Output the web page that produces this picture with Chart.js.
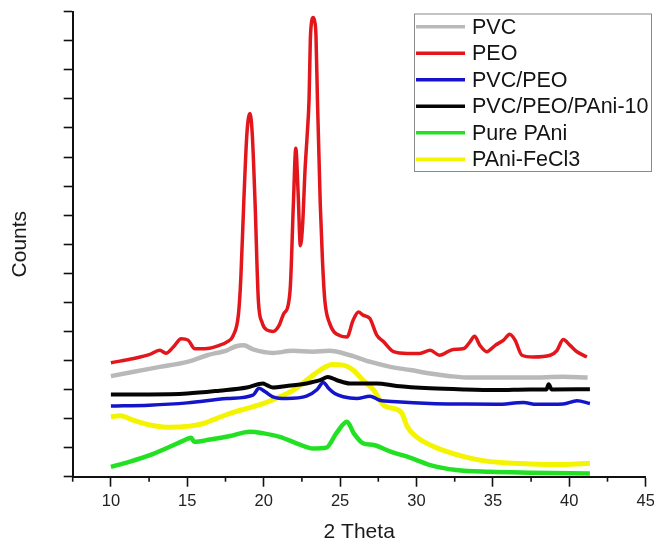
<!DOCTYPE html>
<html>
<head>
<meta charset="utf-8">
<script src="https://cdn.jsdelivr.net/npm/chart.js@4/dist/chart.umd.min.js"></script>
<style>
  html, body { margin: 0; padding: 0; background: #ffffff; }
  #c { display: block; }
</style>
</head>
<body>
<canvas id="c" width="654" height="541"></canvas>
<script>
// ---- Data ----
const seriesNames = ["PVC", "PEO", "PVC/PEO", "PVC/PEO/PAni-10", "Pure PAni", "PAni-FeCl3"];

const pvcTheta  = [10, 11.5, 13.2, 15, 16.3, 17.6, 18.2, 18.7, 19.3, 20.6, 21.9, 23.2, 24.3, 25.65, 27, 28.3, 29.6, 30.9, 32.2, 33.5, 35.2, 37.4, 39.6, 41.2];
const pvcCounts = [3.46, 3.61, 3.78, 3.95, 4.18, 4.35, 4.49, 4.52, 4.38, 4.26, 4.33, 4.3, 4.33, 4.18, 3.95, 3.78, 3.67, 3.55, 3.46, 3.41, 3.41, 3.41, 3.44, 3.41];

const peoTheta  = [10, 11.5, 12.5, 13.2, 13.6, 14.1, 14.6, 15.05, 15.5, 16.3, 17.1, 17.6, 18.0, 18.35, 18.5, 18.7, 18.9, 19.1, 19.25, 19.43, 19.65, 19.9, 20.2, 20.6, 21.0, 21.3, 21.6, 21.75, 21.95, 22.1, 22.25, 22.4, 22.55, 22.7, 22.85, 22.97, 23.05, 23.12, 23.22, 23.32, 23.42, 23.52, 23.7, 23.85, 24.0, 24.3, 25.0, 25.45, 25.85, 26.2, 26.5, 26.95, 27.4, 27.85, 28.5, 29.4, 30.2, 30.9, 31.5, 32.4, 33.1, 33.5, 33.8, 34.15, 34.6, 35.15, 35.7, 36.1, 36.45, 36.9, 37.65, 38.75, 39.2, 39.6, 40.05, 40.5, 41.15];
const peoCounts = [3.92, 4.07, 4.2, 4.35, 4.25, 4.47, 4.75, 4.7, 4.4, 4.41, 4.52, 4.64, 4.85, 5.6, 6.8, 9.5, 11.8, 12.5, 11.8, 9.5, 6.07, 5.3, 5.05, 5.0, 5.2, 5.6, 5.9, 6.6, 9.5, 11.3, 9.8, 7.95, 8.7, 10.5, 11.8, 13.0, 15.0, 15.6, 15.8, 15.7, 15.2, 12.9, 9.4, 7.4, 6.07, 5.3, 4.85, 4.81, 5.38, 5.67, 5.56, 5.44, 4.87, 4.64, 4.3, 4.24, 4.24, 4.35, 4.18, 4.38, 4.41, 4.64, 4.83, 4.52, 4.3, 4.52, 4.7, 4.9, 4.7, 4.18, 4.12, 4.18, 4.35, 4.72, 4.52, 4.3, 4.12];

const blendTheta  = [10, 12.5, 15, 17.6, 19.3, 19.7, 20.1, 20.6, 21.5, 22.8, 23.5, 23.9, 24.25, 24.65, 25.2, 26.1, 26.95, 27.6, 28.7, 30.9, 33.1, 35.25, 37.0, 37.85, 39.6, 40.5, 41.35];
const blendCounts = [2.43, 2.46, 2.54, 2.69, 2.81, 3.04, 2.92, 2.75, 2.69, 2.77, 3.0, 3.24, 3.04, 2.86, 2.75, 2.69, 2.77, 2.63, 2.58, 2.52, 2.5, 2.49, 2.55, 2.49, 2.5, 2.61, 2.52];

const compTheta  = [10, 12.5, 15, 17.1, 18.9, 19.95, 20.2, 20.6, 21.5, 22.8, 23.7, 24.2, 24.8, 25.65, 27.4, 28.7, 30.9, 33.1, 35.25, 37.4, 38.5, 38.65, 38.85, 41.35];
const compCounts = [2.83, 2.83, 2.86, 2.96, 3.07, 3.21, 3.15, 3.07, 3.12, 3.21, 3.32, 3.43, 3.32, 3.21, 3.21, 3.12, 3.04, 3.0, 2.98, 3.0, 3.0, 3.18, 3.0, 3.01];

const paniTheta  = [10, 11.25, 12.55, 13.85, 14.75, 15.25, 15.45, 16.5, 17.8, 19.1, 20.0, 21.05, 22.15, 23.25, 24.1, 24.75, 25.45, 25.9, 26.5, 27.2, 28.3, 29.4, 30.9, 32.6, 34.8, 37.4, 41.35];
const paniCounts = [0.34, 0.52, 0.74, 1.03, 1.24, 1.34, 1.2, 1.28, 1.4, 1.55, 1.49, 1.37, 1.15, 0.97, 1.0, 1.49, 1.89, 1.49, 1.15, 1.09, 0.86, 0.69, 0.4, 0.23, 0.17, 0.14, 0.11];

const fecl3Theta  = [10, 10.6, 11.45, 12.55, 13.85, 15.15, 16.05, 16.9, 17.8, 18.9, 20.0, 21.05, 21.95, 22.8, 23.7, 24.5, 25.2, 25.85, 26.5, 27.2, 27.85, 28.7, 29.05, 29.4, 30.0, 30.9, 32.0, 33.1, 34.15, 35.7, 37.4, 39.6, 41.35];
const fecl3Counts = [2.06, 2.1, 1.95, 1.78, 1.7, 1.74, 1.83, 2.0, 2.18, 2.35, 2.52, 2.75, 2.98, 3.32, 3.67, 3.86, 3.84, 3.67, 3.32, 2.98, 2.46, 2.32, 2.18, 1.72, 1.37, 1.09, 0.86, 0.69, 0.57, 0.48, 0.44, 0.42, 0.46];

const xTickValues = [10, 15, 20, 25, 30, 35, 40, 45];
const xMinorTickValues = [7.5, 12.5, 17.5, 22.5, 27.5, 32.5, 37.5, 42.5];

// ---- helpers ----
function pts(xs, ys) { return xs.map((x, i) => ({ x: x, y: ys[i] })); }

const FONT = '"Liberation Sans", Arial, Helvetica, sans-serif';

const seriesData = [
  pts(pvcTheta, pvcCounts),
  pts(peoTheta, peoCounts),
  pts(blendTheta, blendCounts),
  pts(compTheta, compCounts),
  pts(paniTheta, paniCounts),
  pts(fecl3Theta, fecl3Counts)
];
const seriesColors = ["#b9b9b9", "#e3161c", "#1414c8", "#050505", "#22e022", "#f4f400"];
const seriesWidths = [4.5, 3.5, 3.5, 4, 4.5, 5];
const seriesOrder = [4, 3, 2, 1, 5, 6]; // lower order drawn on top

const minorTicksPlugin = {
  id: 'minorTicks',
  afterDraw(chart) {
    const xs = chart.scales.x;
    const ctx = chart.ctx;
    ctx.save();
    ctx.strokeStyle = '#111';
    ctx.lineWidth = 1.6;
    xMinorTickValues.forEach(v => {
      const px = xs.getPixelForValue(v);
      ctx.beginPath();
      ctx.moveTo(px, xs.top);
      ctx.lineTo(px, xs.top + 5);
      ctx.stroke();
    });
    ctx.restore();
  }
};

const boxLegendPlugin = {
  id: 'boxLegend',
  afterDraw(chart) {
    const ctx = chart.ctx;
    const left = 414.5, top = 14, w = 237, h = 157.5;
    ctx.save();
    ctx.fillStyle = '#ffffff';
    ctx.fillRect(left, top, w, h);
    ctx.strokeStyle = '#8a8a8a';
    ctx.lineWidth = 1;
    ctx.strokeRect(left, top, w, h);
    ctx.font = '21.5px ' + FONT;
    ctx.textBaseline = 'middle';
    ctx.textAlign = 'left';
    chart.data.datasets.forEach((ds, i) => {
      const y = 26.7 + i * 26.5;
      ctx.strokeStyle = ds.borderColor;
      ctx.lineWidth = 3.5;
      ctx.beginPath();
      ctx.moveTo(416, y);
      ctx.lineTo(465, y);
      ctx.stroke();
      ctx.fillStyle = '#141414';
      ctx.fillText(ds.label, 472, y + 1);
    });
    ctx.restore();
  }
};

new Chart(document.getElementById('c'), {
  type: 'line',
  data: {
    datasets: seriesNames.map((name, i) => ({
      label: name,
      data: seriesData[i],
      borderColor: seriesColors[i],
      backgroundColor: seriesColors[i],
      borderWidth: seriesWidths[i],
      pointRadius: 0,
      cubicInterpolationMode: 'monotone',
      fill: false,
      order: seriesOrder[i]
    }))
  },
  options: {
    responsive: false,
    animation: false,
    devicePixelRatio: 1,
    layout: { padding: { top: 11.7, right: 8.3, bottom: 0, left: 0 } },
    plugins: {
      legend: { display: false },
      tooltip: { enabled: false }
    },
    scales: {
      x: {
        type: 'linear',
        min: 7.5,
        max: 45,
        afterBuildTicks(scale) { scale.ticks = xTickValues.map(v => ({ value: v })); },
        afterFit(scale) { scale.height = 64.3; scale.paddingLeft = 0; scale.paddingRight = 0; },
        ticks: {
          autoSkip: false,
          maxRotation: 0,
          padding: 4.5,
          color: '#222',
          font: { family: FONT, size: 16.5 }
        },
        grid: {
          drawOnChartArea: false,
          drawTicks: true,
          tickLength: 10,
          tickWidth: 1.6,
          tickColor: '#111'
        },
        border: { display: true, color: '#111', width: 2 },
        title: {
          display: true,
          text: '2 Theta',
          color: '#1a1a1a',
          font: { family: FONT, size: 21, lineHeight: 1 },
          padding: { top: 0, bottom: -1.5 }
        }
      },
      y: {
        type: 'linear',
        min: 0,
        max: 16,
        afterFit(scale) { scale.width = 72.7; scale.paddingTop = 0; scale.paddingBottom = 0; },
        ticks: { stepSize: 1, display: false },
        grid: {
          drawOnChartArea: false,
          drawTicks: true,
          tickLength: 9,
          tickWidth: 1.6,
          tickColor: '#111'
        },
        border: { display: true, color: '#111', width: 2 },
        title: {
          display: true,
          text: 'Counts',
          color: '#1a1a1a',
          font: { family: FONT, size: 21, lineHeight: 1 },
          padding: { top: 10, bottom: 0 }
        }
      }
    }
  },
  plugins: [minorTicksPlugin, boxLegendPlugin]
});
</script>
</body>
</html>
